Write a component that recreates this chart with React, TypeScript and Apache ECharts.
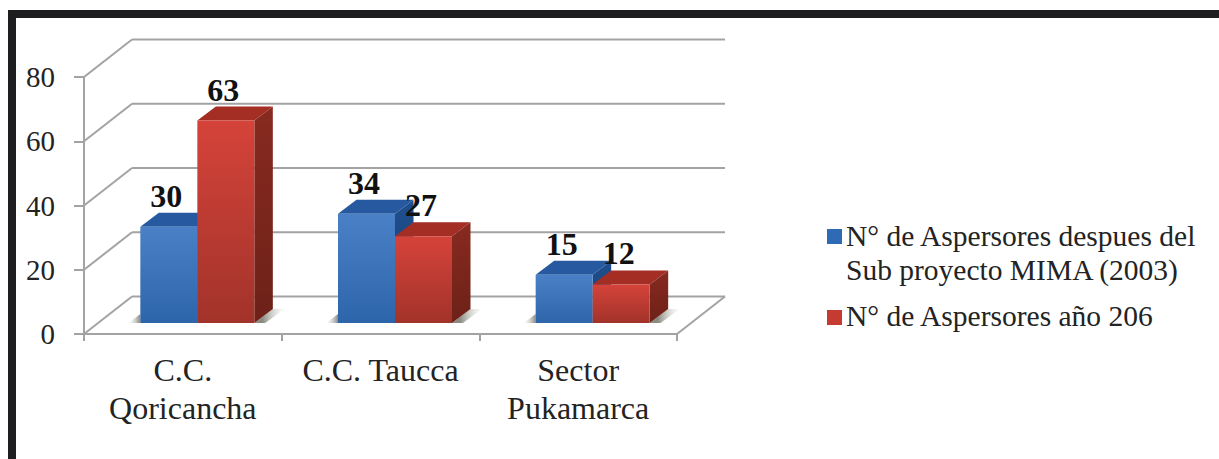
import React, { useEffect, useRef } from "react";
import * as echarts from "echarts";

const categories = ["C.C.\nQoricancha", "C.C. Taucca", "Sector\nPukamarca"];
const seriesBefore = [30, 34, 15];
const seriesAfter = [63, 27, 12];
const yTicks = [0, 20, 40, 60, 80];
const legendLines = [
  { text: "N° de Aspersores despues del", y: 236 },
  { text: "Sub proyecto MIMA (2003)", y: 270 },
  { text: "N° de Aspersores año 206", y: 316 },
];
const seriesNames = ["N° de Aspersores despues del Sub proyecto MIMA (2003)", "N° de Aspersores año 206"];

const FONT = '"Liberation Serif", "Times New Roman", serif';
const AXIS = "#a3a3a3";
const INK = "#232323";

// Oblique projection of the fake 3D box
const WALL_DX = 48;
const WALL_DY = -37.5;
const BAR_DX = 14.5;
const BAR_DY = -11;
const BAR_W = 57;
const BAR_DEPTH_X = 18.5;
const BAR_DEPTH_Y = -14;

const vGrad = (top: string, bottom: string) => ({
  type: "linear", x: 0, y: 0, x2: 0, y2: 1,
  colorStops: [{ offset: 0, color: top }, { offset: 1, color: bottom }],
});

const palettes = [
  { front: vGrad("#4a80c6", "#2d65ab"), top: "#26599f", side: vGrad("#1f4f8f", "#1a3f72"), swatch: "#2f6ab4" },
  { front: vGrad("#d5433a", "#a2332a"), top: "#a42d24", side: vGrad("#882a20", "#6d2118"), swatch: "#c53a31" },
];

const poly = (points: number[][], fill: any) => ({
  type: "polygon",
  shape: { points },
  style: { fill },
});

// One box per category: front, top and side faces plus the value above it.
const boxRenderer = (seriesIdx: number) => (params: any, api: any) => {
  const cat = api.value(0);
  const value = api.value(1);
  const p = palettes[seriesIdx];
  const head = api.coord([cat, value]);
  const foot = api.coord([cat, 0]);
  const x0 = head[0] + BAR_DX + (seriesIdx === 0 ? -BAR_W : 0);
  const x1 = x0 + BAR_W;
  const yTop = head[1] + BAR_DY;
  const yBase = foot[1] + BAR_DY;
  const dx = BAR_DEPTH_X;
  const dy = BAR_DEPTH_Y;
  return {
    type: "group",
    children: [
      poly([[x0, yTop], [x1, yTop], [x1 + dx, yTop + dy], [x0 + dx, yTop + dy]], p.top),
      poly([[x1, yTop], [x1 + dx, yTop + dy], [x1 + dx, yBase + dy], [x1, yBase]], p.side),
      { type: "rect", shape: { x: x0, y: yTop, width: BAR_W, height: yBase - yTop }, style: { fill: p.front } },
      {
        type: "text",
        z2: 20,
        style: {
          text: String(value),
          x: (x0 + x1) / 2 - 2.5,
          y: yTop - 31,
          align: "center",
          verticalAlign: "middle",
          font: `bold 32px ${FONT}`,
          fill: "#111",
        },
      },
    ],
  };
};

// Soft floor shadow either side of each pair of boxes.
const shadowRenderer = (params: any, api: any) => {
  const foot = api.coord([api.value(0), 0]);
  const cx = foot[0] + BAR_DX;
  const y = foot[1] + BAR_DY;
  const right = cx + BAR_W;
  const left = cx - BAR_W;
  const fade = (x: number, x2: number) => ({
    type: "linear", x, y: 0, x2, y2: 0, global: true,
    colorStops: [{ offset: 0, color: "#8a8a82" }, { offset: 1, color: "rgba(225,225,220,0.1)" }],
  });
  return {
    type: "group",
    children: [
      poly([[right, y], [right + BAR_DEPTH_X, y + BAR_DEPTH_Y], [right + 30, y + BAR_DEPTH_Y], [right + 11, y]], fade(right + 8, right + 30)),
      poly([[left - 12, y], [left, y - 9], [left, y]], fade(left, left - 12)),
    ],
  };
};

// Back wall, side wall and floor edge lines.
const wallRenderer = (params: any, api: any) => {
  const tick = api.value(0);
  const sys = params.coordSys;
  const p = api.coord([0, tick]);
  const xL = sys.x;
  const xR = sys.x + sys.width;
  const style = { stroke: AXIS, lineWidth: 2, fill: "none" };
  const children: any[] = [
    { type: "line", shape: { x1: xL, y1: p[1], x2: xL + WALL_DX, y2: p[1] + WALL_DY }, style },
    { type: "line", shape: { x1: xL + WALL_DX, y1: p[1] + WALL_DY, x2: xR + WALL_DX, y2: p[1] + WALL_DY }, style },
  ];
  if (tick === 0) {
    children.push({ type: "line", shape: { x1: xR, y1: p[1], x2: xR + WALL_DX, y2: p[1] + WALL_DY }, style });
  }
  return { type: "group", children };
};

export default function App() {
  const ref = useRef<HTMLDivElement>(null);

  useEffect(() => {
    const chart = echarts.init(ref.current!, undefined, { renderer: "svg" });
    const fontLegend = `29.5px ${FONT}`;
    chart.setOption({
      animation: false,
      backgroundColor: "#ffffff",
      grid: { left: 84, right: 1219 - 677, top: 77, bottom: 459 - 334, containLabel: false },
      xAxis: {
        type: "category",
        data: categories,
        axisLine: { lineStyle: { color: AXIS, width: 2 } },
        axisTick: { show: true, length: 7, lineStyle: { color: AXIS, width: 2 } },
        axisLabel: {
          margin: 17,
          interval: 0,
          fontFamily: FONT,
          fontSize: 32,
          lineHeight: 38,
          color: INK,
        },
        splitLine: { show: false },
      },
      yAxis: {
        type: "value",
        min: 0,
        max: 80,
        interval: 20,
        axisLine: { show: true, lineStyle: { color: AXIS, width: 2 } },
        axisTick: { show: true, length: 10, lineStyle: { color: AXIS, width: 2 } },
        axisLabel: { margin: 29, fontFamily: FONT, fontSize: 29, color: INK },
        splitLine: { show: false },
      },
      series: [
        {
          type: "custom",
          name: "walls",
          renderItem: wallRenderer,
          data: yTicks.map((t) => [t]),
          encode: { y: 0 },
          silent: true,
          z: 1,
        },
        {
          type: "custom",
          name: "shadow",
          renderItem: shadowRenderer,
          data: categories.map((_, i) => [i]),
          encode: { x: 0 },
          silent: true,
          z: 2,
        },
        {
          type: "custom",
          name: seriesNames[0],
          renderItem: boxRenderer(0),
          data: seriesBefore.map((v, i) => [i, v]),
          encode: { x: 0, y: 1 },
          z: 3,
        },
        {
          type: "custom",
          name: seriesNames[1],
          renderItem: boxRenderer(1),
          data: seriesAfter.map((v, i) => [i, v]),
          encode: { x: 0, y: 1 },
          z: 4,
        },
      ],
      graphic: [
        // Picture frame: heavy rule along the top and the left edge
        { type: "rect", shape: { x: 8, y: 10, width: 1211, height: 8 }, style: { fill: "#1e1e20" }, silent: true },
        { type: "rect", shape: { x: 8, y: 10, width: 8, height: 449 }, style: { fill: "#1e1e20" }, silent: true },
        // Legend swatches and lines
        { type: "rect", shape: { x: 827, y: 229, width: 15, height: 15 }, style: { fill: palettes[0].swatch } },
        { type: "rect", shape: { x: 827, y: 310, width: 15, height: 15 }, style: { fill: palettes[1].swatch } },
        ...legendLines.map((l) => ({
          type: "text",
          x: 846,
          y: l.y,
          style: { text: l.text, font: fontLegend, fill: INK, verticalAlign: "middle", align: "left" },
        })),
      ],
    });
    return () => chart.dispose();
  }, []);

  return <div ref={ref} style={{ position: "fixed", left: 0, top: 0, width: 1219, height: 459 }} />;
}
